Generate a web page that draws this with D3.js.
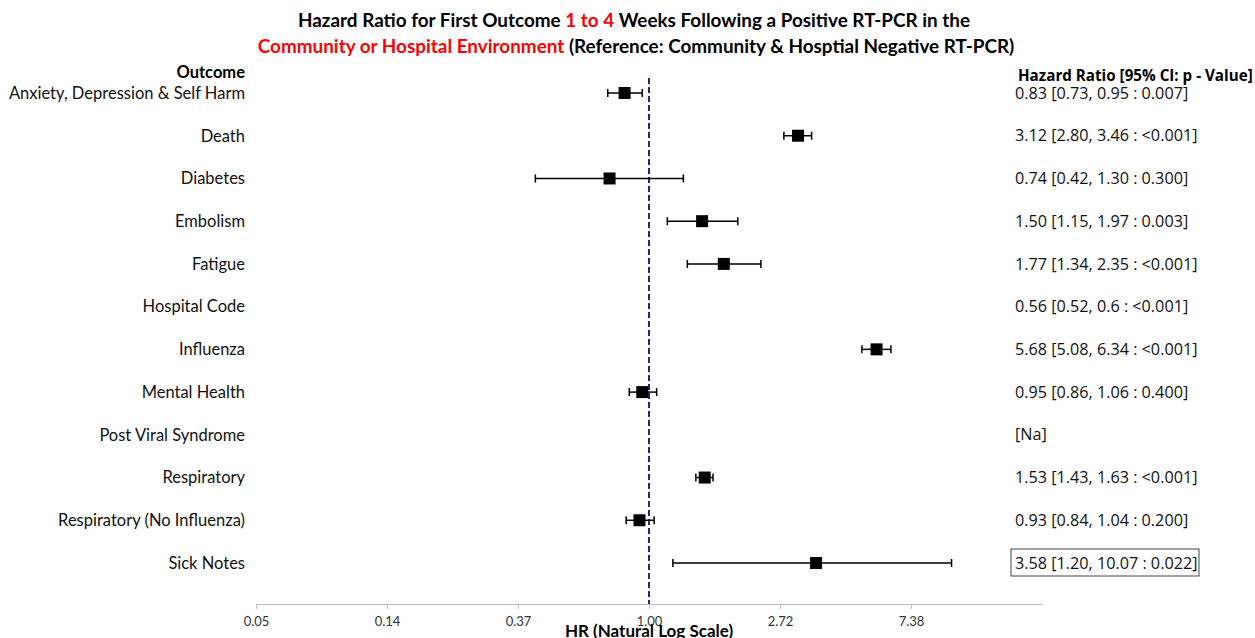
<!DOCTYPE html>
<html><head><meta charset="utf-8">
<script src="https://cdn.jsdelivr.net/npm/d3@7"></script>
<style>body{margin:0;background:#fff}svg{display:block}</style>
</head><body>
<script>
const outcomes = ["Anxiety, Depression & Self Harm","Death","Diabetes","Embolism","Fatigue","Hospital Code","Influenza","Mental Health","Post Viral Syndrome","Respiratory","Respiratory (No Influenza)","Sick Notes"];
const hr    = [0.83, 3.12, 0.74, 1.50, 1.77, null, 5.68, 0.95, null, 1.53, 0.93, 3.58];
const lower = [0.73, 2.80, 0.42, 1.15, 1.34, null, 5.08, 0.86, null, 1.43, 0.84, 1.20];
const upper = [0.95, 3.46, 1.30, 1.97, 2.35, null, 6.34, 1.06, null, 1.63, 1.04, 10.07];
const hrLabels = ["0.83 [0.73, 0.95 : 0.007]","3.12 [2.80, 3.46 : <0.001]","0.74 [0.42, 1.30 : 0.300]","1.50 [1.15, 1.97 : 0.003]","1.77 [1.34, 2.35 : <0.001]","0.56 [0.52, 0.6 : <0.001]","5.68 [5.08, 6.34 : <0.001]","0.95 [0.86, 1.06 : 0.400]","[Na]","1.53 [1.43, 1.63 : <0.001]","0.93 [0.84, 1.04 : 0.200]","3.58 [1.20, 10.07 : 0.022]"];
const tickValues = [Math.exp(-3),Math.exp(-2),Math.exp(-1),1,Math.exp(1),Math.exp(2)];
const tickLabels = ["0.05","0.14","0.37","1.00","2.72","7.38"];
const boxedRow = 11;

const W=1255,H=638;
const svg=d3.select("body").append("svg").attr("width",W).attr("height",H);
const x=d3.scaleLog().base(Math.E).domain([Math.exp(-3),Math.exp(3)]).range([256,1042]);
const y=d3.scalePoint().domain(outcomes).range([93,563]);
const F1="Lato, 'Noto Sans', sans-serif";
const F2="'Open Sans', 'Noto Sans', sans-serif";

// title
const t=svg.append("text").attr("text-anchor","middle").attr("font-family",F1).attr("font-weight","bold").attr("font-size",18.9);
const l1=t.append("tspan").attr("x",634).attr("y",27);
l1.append("tspan").text("Hazard Ratio for First Outcome ");
l1.append("tspan").attr("fill","#ff0000").text("1 to 4");
l1.append("tspan").text(" Weeks Following a Positive RT-PCR in the");
const l2=t.append("tspan").attr("x",636).attr("y",53);
l2.append("tspan").attr("fill","#ff0000").text("Community or Hospital Environment");
l2.append("tspan").text(" (Reference: Community & Hosptial Negative RT-PCR)");

// headers
svg.append("text").attr("x",245).attr("y",78).attr("text-anchor","end").attr("font-family",F1).attr("font-weight","bold").attr("font-size",16.5).text("Outcome");
svg.append("text").attr("x",1018).attr("y",81).attr("font-family",F2).attr("font-weight","bold").attr("font-size",15.2).text("Hazard Ratio [95% CI: p - Value]");

// axis
const ax=svg.append("g").attr("transform","translate(0,604)").call(d3.axisBottom(x).tickValues(tickValues).tickFormat((d,i)=>tickLabels[i]).tickSize(5).tickSizeOuter(0));
ax.select(".domain").attr("stroke","#bfbfbf");
ax.selectAll(".tick line").attr("stroke","#bfbfbf");
ax.selectAll(".tick text").attr("font-family",F1).attr("font-size",13).attr("fill","#333").attr("dy","1.05em");
svg.append("text").attr("x",649).attr("y",637).attr("text-anchor","middle").attr("font-family",F1).attr("font-weight","bold").attr("font-size",17).text("HR (Natural Log Scale)");

// reference line
svg.append("line").attr("x1",x(1)).attr("x2",x(1)).attr("y1",78).attr("y2",604).attr("stroke","#1f2a7a").attr("stroke-width",2).attr("stroke-dasharray","6,3");

// left labels
svg.selectAll(".ol").data(outcomes).join("text").attr("x",245).attr("y",d=>y(d)).attr("dy","0.35em").attr("text-anchor","end").attr("font-family",F1).attr("font-size",16.5).attr("fill","#111").text(d=>d);

// right labels
svg.selectAll(".rl").data(hrLabels).join("text").attr("x",1015).attr("y",(d,i)=>y(outcomes[i])).attr("dy","0.35em").attr("font-family",F2).attr("font-size",16.2).attr("fill","#111").text(d=>d);
svg.append("rect").attr("x",1011).attr("y",y(outcomes[boxedRow])-14).attr("width",188).attr("height",27).attr("fill","none").attr("stroke","#444").attr("stroke-width",1);

// marks
const rows=outcomes.map((o,i)=>({o,hr:hr[i],lo:lower[i],hi:upper[i]})).filter(d=>d.hr!=null);
const g=svg.append("g");
g.selectAll(".ci").data(rows).join("line").attr("x1",d=>x(d.lo)).attr("x2",d=>x(d.hi)).attr("y1",d=>y(d.o)).attr("y2",d=>y(d.o)).attr("stroke","#000").attr("stroke-width",1.5);
g.selectAll(".c1").data(rows).join("line").attr("x1",d=>x(d.lo)).attr("x2",d=>x(d.lo)).attr("y1",d=>y(d.o)-4).attr("y2",d=>y(d.o)+4).attr("stroke","#000").attr("stroke-width",1.5);
g.selectAll(".c2").data(rows).join("line").attr("x1",d=>x(d.hi)).attr("x2",d=>x(d.hi)).attr("y1",d=>y(d.o)-4).attr("y2",d=>y(d.o)+4).attr("stroke","#000").attr("stroke-width",1.5);
g.selectAll(".sq").data(rows).join("rect").attr("x",d=>x(d.hr)-6).attr("y",d=>y(d.o)-6).attr("width",12).attr("height",12).attr("fill","#000");
</script>
</body></html>
